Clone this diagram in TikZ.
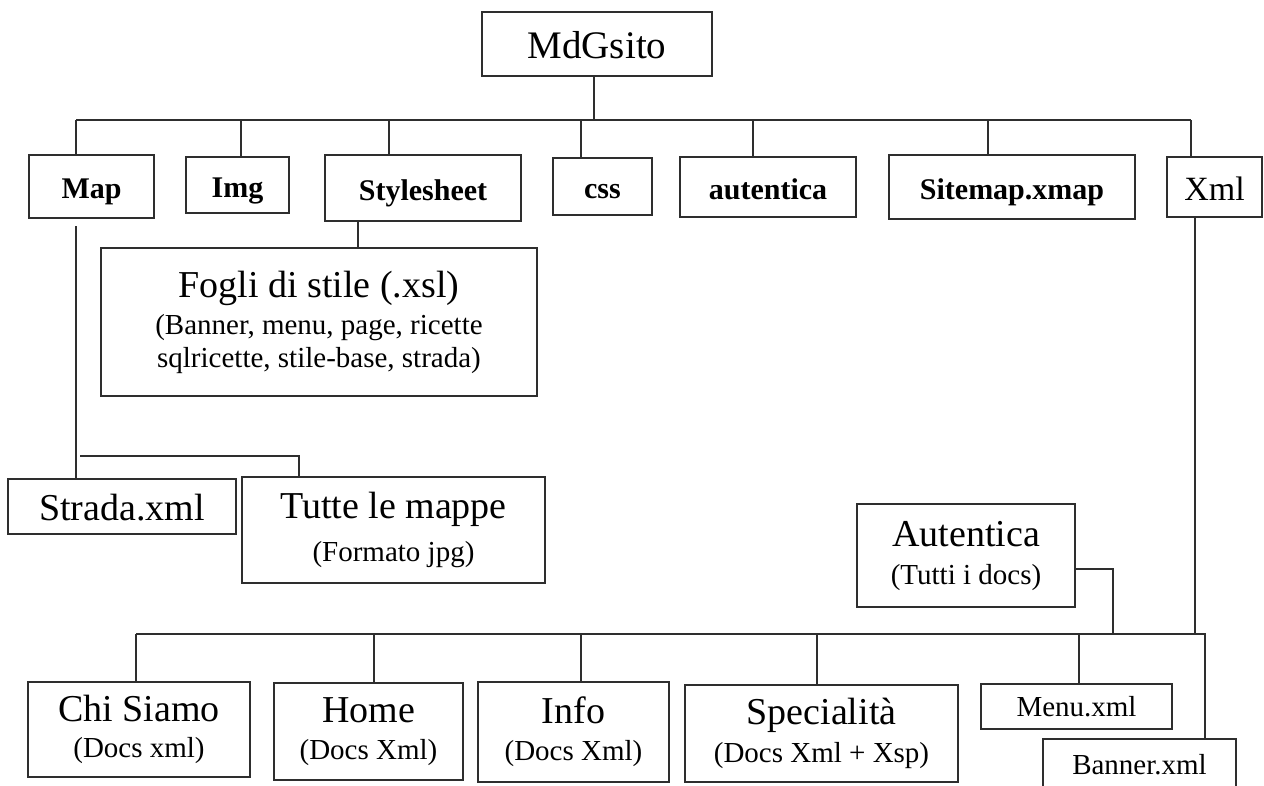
\documentclass[tikz,border=0pt]{standalone}
\usepackage{fontspec}
\setmainfont{Liberation Serif}
\newcommand{\bigt}[1]{{\fontsize{38}{38}\selectfont #1}}
\begin{document}
\begin{tikzpicture}[x=1pt,y=-1pt,
  frame/.style={draw=black!82, line width=1.6pt, fill=white, inner sep=0pt,
                font=\fontsize{29}{33}\selectfont},
  box/.style={frame, align=center},
  head/.style={frame, font=\fontsize{30}{34}\selectfont\bfseries,
               text height=24pt, text depth=0pt},
  wire/.style={draw=black!82, line width=1.6pt}]
\useasboundingbox (0,0) rectangle (1264,785);
\clip (0,0) rectangle (1264,785);
\fill[white] (0,0) rectangle (1264,785);

% root
\node[frame, minimum width=230pt, minimum height=64pt, font=\fontsize{39}{39}\selectfont,
      text height=28pt, text depth=0pt] (mdg) at (597,44) {MdGsito};

% first level
\node[head, minimum width=125pt, minimum height=63pt] (map)  at (91.5,186.5) {Map};
\node[head, minimum width=103pt, minimum height=56pt] (img)  at (237.5,185) {Img};
\node[head, minimum width=196pt, minimum height=66pt] (sty)  at (423,188) {Stylesheet};
\node[head, minimum width=99pt,  minimum height=57pt] (css)  at (602.5,186.5) {css};
\node[head, minimum width=176pt, minimum height=60pt] (aut)  at (768,187) {autentica};
\node[head, minimum width=246pt, minimum height=64pt] (smap) at (1012,187) {Sitemap.xmap};
\node[frame, minimum width=95pt, minimum height=60pt, font=\fontsize{34}{34}\selectfont,
      text height=26pt, text depth=0pt] (xml) at (1214.5,187) {Xml};

% bus under the root
\coordinate (jmap)  at (76,120);
\coordinate (jimg)  at (241,120);
\coordinate (jsty)  at (389,120);
\coordinate (jcss)  at (581,120);
\coordinate (jaut)  at (753,120);
\coordinate (jsmap) at (988,120);
\coordinate (jxml)  at (1191,120);
\draw[wire] (mdg.south -| 594,0) -- (594,120);
\draw[wire] (jmap) -- (jxml);
\draw[wire] (jmap) -- (jmap |- map.north);
\draw[wire] (jimg) -- (jimg |- img.north);
\draw[wire] (jsty) -- (jsty |- sty.north);
\draw[wire] (jcss) -- (jcss |- css.north);
\draw[wire] (jaut) -- (jaut |- aut.north);
\draw[wire] (jsmap) -- (jsmap |- smap.north);
\draw[wire] (jxml) -- (jxml |- xml.north);

% stylesheets
\node[box, minimum width=436pt, minimum height=148pt] (fogli) at (319,322)
  {\bigt{Fogli di stile (.xsl)}\\[4pt](Banner, menu, page, ricette\\sqlricette, stile-base, strada)};
\coordinate (jfogli) at (358,230);
\draw[wire] (jfogli |- sty.south) -- (jfogli |- fogli.north);

% maps
\node[frame, minimum width=228pt, minimum height=55pt, font=\fontsize{38}{38}\selectfont,
      text height=27pt, text depth=0pt] (strada) at (122,506.5) {Strada.xml};
\node[box, minimum width=303pt, minimum height=106pt] (tutte) at (393.5,530)
  {\bigt{Tutte le mappe}\\[10pt](Formato jpg)};
\coordinate (maptail) at (76,226);
\draw[wire] (maptail) -- (maptail |- strada.north);
\coordinate (tl) at (80,456);
\coordinate (tr) at (299,456);
\draw[wire] (tl) -- (tr) -- (tr |- tutte.north);

% authentication
\node[box, minimum width=218pt, minimum height=103pt] (autb) at (966,555.5)
  {\bigt{Autentica}\\[5pt](Tutti i docs)};

% second level documents
\node[box, minimum width=222pt, minimum height=95pt]  (chi)  at (139,729.5)
  {\bigt{Chi Siamo}\\[3pt](Docs xml)};
\node[box, minimum width=189pt, minimum height=97pt]  (home) at (368.5,731.5)
  {\bigt{Home}\\[4pt](Docs Xml)};
\node[box, minimum width=191pt, minimum height=100pt] (info) at (573.5,732)
  {\bigt{Info}\\[4pt](Docs Xml)};
\node[box, minimum width=273pt, minimum height=97pt]  (spec) at (821.5,733.5)
  {\bigt{Specialità}\\[5pt](Docs Xml + Xsp)};
\node[frame, minimum width=191pt, minimum height=45pt] (menu) at (1076.5,706.5) {Menu.xml};
\node[frame, minimum width=193pt, minimum height=52pt] (banner) at (1139.5,765) {Banner.xml};

% lower bus
\coordinate (kchi)  at (136,634);
\coordinate (khome) at (374,634);
\coordinate (kinfo) at (581,634);
\coordinate (kspec) at (817,634);
\coordinate (kmenu) at (1079,634);
\coordinate (kaut)  at (1113,634);
\coordinate (kxml)  at (1195,634);
\coordinate (kban)  at (1205,634);
\draw[wire] (kchi) -- (kban) -- (kban |- banner.north);
\draw[wire] (kchi) -- (kchi |- chi.north);
\draw[wire] (khome) -- (khome |- home.north);
\draw[wire] (kinfo) -- (kinfo |- info.north);
\draw[wire] (kspec) -- (kspec |- spec.north);
\draw[wire] (kmenu) -- (kmenu |- menu.north);
\draw[wire] (kxml |- xml.south) -- (kxml);
\coordinate (autout) at (1075,569);
\draw[wire] (autout) -- (autout -| kaut) -- (kaut);
\end{tikzpicture}
\end{document}
